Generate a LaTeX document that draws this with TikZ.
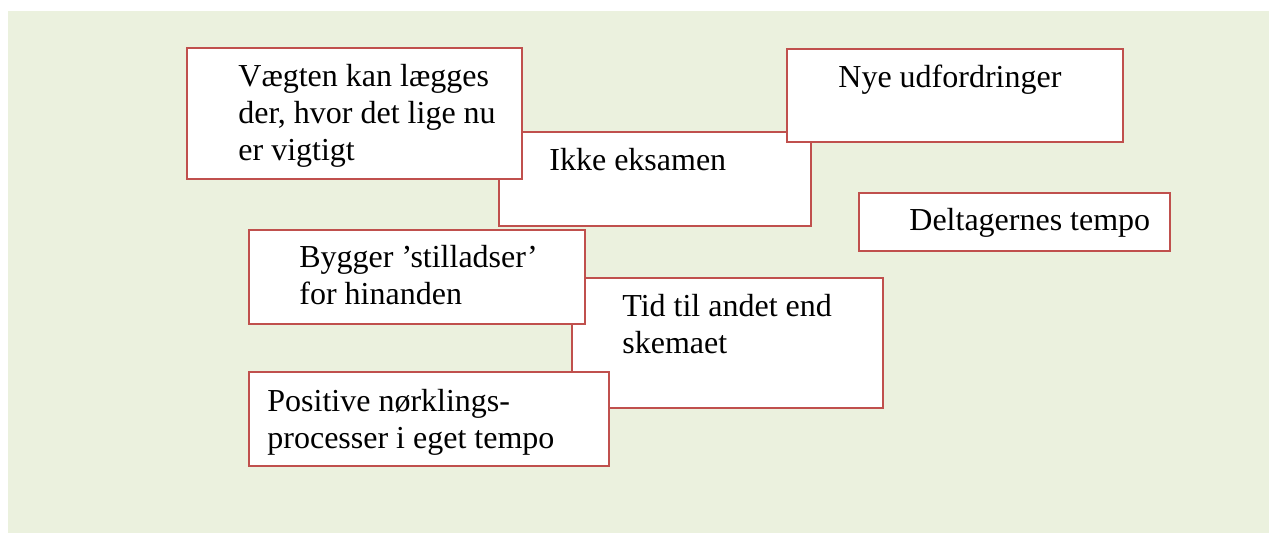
\documentclass[tikz,border=0pt]{standalone}
\usepackage{fontspec}
\setmainfont{Liberation Serif}
\definecolor{bgcol}{HTML}{EBF1DE}
\definecolor{edgecol}{HTML}{C0504D}
\begin{document}
\begin{tikzpicture}[x=0.5pt,y=-0.5pt,
  bx/.style={draw=edgecol, line width=1pt, fill=white, rectangle, inner sep=0pt, anchor=north west},
  txt/.style={anchor=base west, inner sep=0pt, font=\fontsize{16}{18.4}\selectfont}]
\useasboundingbox (0,0) rectangle (1269,533);
\fill[bgcol] (8,11) rectangle (1269,533);
% boxes in stacking order
\node[bx, minimum width=156pt, minimum height=47pt] (ikke) at (498,131) {};
\node[bx, minimum width=167.5pt, minimum height=65.5pt] (vaeg) at (186,47) {};
\node[bx, minimum width=168pt, minimum height=46.5pt] (nye) at (786,48) {};
\node[bx, minimum width=155.5pt, minimum height=29pt] (delt) at (858,192) {};
\node[bx, minimum width=155.5pt, minimum height=65pt] (tid) at (571,277) {};
\node[bx, minimum width=168pt, minimum height=47pt] (bygg) at (248,229) {};
\node[bx, minimum width=180pt, minimum height=47pt] (posi) at (248,371) {};
% texts
\node[txt] (tikke) at (549,171) {Ikke eksamen};
\node[txt] (tvaeg) at (238,87) {\vtop{\hbox{Vægten kan lægges}\hbox{der, hvor det lige nu}\hbox{er vigtigt}}};
\node[txt] (tnye) at (838,88) {Nye udfordringer};
\node[txt] (tdelt) at (909,231) {Deltagernes tempo};
\node[txt] (ttid) at (622,317) {\vtop{\hbox{Tid til andet end}\hbox{skemaet}}};
\node[txt] (tbygg) at (299,268) {\vtop{\hbox{Bygger ’stilladser’}\hbox{for hinanden}}};
\node[txt] (tposi) at (267,412) {\vtop{\hbox{Positive nørklings-}\hbox{processer i eget tempo}}};
\end{tikzpicture}
\end{document}
